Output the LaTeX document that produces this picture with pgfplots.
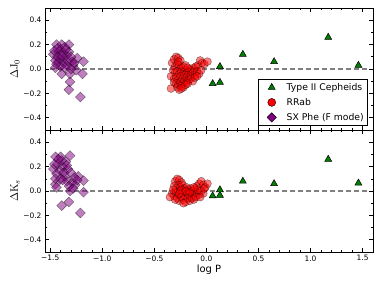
\documentclass[border=0pt]{standalone}
\usepackage[no-math]{fontspec}
\setmainfont{DejaVu Sans}
\usepackage{pgfplots}
\pgfplotsset{compat=1.18}
\definecolor{mplpurple}{HTML}{800080}
\definecolor{mplgreen}{HTML}{008000}
\definecolor{mplred}{HTML}{FF0000}
\pgfplotsset{
  myax/.style={
    scale only axis, width=328bp, height=122bp,
    xmin=-1.55, xmax=1.6, ymin=-0.5, ymax=0.5,
    xtick={-1.5,-1,-0.5,0,0.5,1,1.5}, minor x tick num=4,
    ytick={-0.4,-0.2,0,0.2,0.4}, minor y tick num=1,
    yticklabels={−0.4,−0.2,0.0,0.2,0.4},
    tick align=inside, xtick pos=both, ytick pos=both,
    major tick length=4bp, minor tick length=2bp,
    axis line style={line width=0.8bp},
    every tick/.style={black, line width=0.6bp},
    tick label style={font=\fontsize{7.5}{9}\selectfont},
    every axis y label/.style={at={(axis description cs:-0.0915,0.5)},rotate=90,anchor=center,font=\fontsize{11}{13}\selectfont},
    every axis x label/.style={at={(axis description cs:0.5,-0.1475)},anchor=center,font=\fontsize{10}{12}\selectfont},
  },
  rrab/.style={only marks, mark=*, mark size=4bp, mark options={fill=mplred, draw=black, line width=0.4bp, opacity=0.5}},
  sxphe/.style={only marks, mark=square*, mark size=3.5bp, mark options={rotate=45, fill=mplpurple, draw=black, line width=0.4bp, opacity=0.5}},
  cep/.style={only marks, mark=triangle*, mark size=4bp, mark options={fill=mplgreen, draw=black, line width=0.5bp}},
  zeroline/.style={gray, line width=1.2bp, dash pattern=on 5bp off 3bp, forget plot},
}
\begin{document}
\begin{tikzpicture}[x=1bp,y=1bp]
\path[use as bounding box] (0,0) rectangle (382,286);
% ---------- top panel ----------
\begin{axis}[myax, at={(45bp,156bp)}, anchor=south west,
  xticklabels={},
  ylabel={$\Delta\mathrm{J}_0$},
  legend cell align=left,
  legend image code/.code={\path[draw=none,fill=none] (0bp,-3bp) rectangle (24bp,3bp); \draw[#1] plot coordinates {(11bp,0bp)};},
  legend style={at={(0.985,0.033)}, anchor=south east, draw=black, line width=0.6bp,
    font=\fontsize{9.3}{11}\selectfont, row sep=2.5bp, inner sep=2bp,
    /tikz/every even column/.append style={column sep=2bp}},
]
\addplot[zeroline] coordinates {(-1.5,0) (1.55,0)};
\addplot[rrab, forget plot] table {
-0.33 0.05
-0.31 0.08
-0.29 0.10
-0.27 0.09
-0.25 0.07
-0.30 0.02
-0.28 0.04
-0.26 0.03
-0.24 0.01
-0.32 -0.01
-0.30 -0.03
-0.28 -0.02
-0.26 -0.04
-0.24 -0.02
-0.22 -0.03
-0.20 -0.01
-0.18 -0.02
-0.16 0.00
-0.14 -0.01
-0.12 0.01
-0.10 0.02
-0.08 0.03
-0.06 0.07
-0.04 0.05
-0.02 0.04
0.01 0.06
-0.34 -0.06
-0.31 -0.08
-0.29 -0.07
-0.27 -0.09
-0.25 -0.06
-0.23 -0.08
-0.21 -0.05
-0.19 -0.07
-0.17 -0.04
-0.15 -0.06
-0.13 -0.03
-0.11 -0.05
-0.09 -0.02
-0.07 -0.04
-0.05 -0.01
-0.31 -0.11
-0.29 -0.12
-0.27 -0.13
-0.25 -0.11
-0.23 -0.12
-0.21 -0.10
-0.19 -0.11
-0.17 -0.09
-0.15 -0.08
-0.13 -0.10
-0.11 -0.07
-0.09 -0.06
-0.28 -0.15
-0.26 -0.17
-0.24 -0.14
-0.22 -0.15
-0.20 -0.13
-0.34 -0.16
-0.24 -0.16
-0.18 -0.12
-0.22 0.02
-0.20 0.03
-0.18 0.01
-0.27 0.06
};
\addplot[sxphe, forget plot] table {
-1.44 0.20
-1.39 0.20
-1.32 0.20
-1.47 0.12
-1.42 0.14
-1.37 0.09
-1.32 0.14
-1.45 0.01
-1.40 0.02
-1.29 0.06
-1.24 0.09
-1.18 0.06
-1.39 -0.04
-1.31 -0.04
-1.25 -0.01
-1.19 -0.04
-1.31 -0.105
-1.32 -0.17
-1.21 -0.23
-1.28 0.03
-1.34 0.03
-1.42 0.06
-1.46 0.15
-1.43 0.10
-1.40 0.16
-1.38 0.13
-1.36 0.18
-1.34 0.11
-1.41 0.08
-1.45 0.07
-1.37 0.05
-1.33 0.07
-1.35 0.16
-1.30 0.10
-1.43 0.17
-1.39 0.11
-1.44 0.04
-1.36 0.01
-1.30 0.00
-1.27 0.05
};
\addplot[cep, forget plot] table {
0.13 0.02
0.06 -0.12
0.13 -0.11
0.35 0.12
0.65 0.06
1.17 0.26
1.46 0.03
};
\addlegendimage{cep}
\addlegendentry{Type II Cepheids}
\addlegendimage{only marks, mark=*, mark size=4bp, mark options={fill=mplred, draw=black, line width=0.4bp}}
\addlegendentry{RRab}
\addlegendimage{only marks, mark=square*, mark size=3.3bp, mark options={rotate=45, fill=mplpurple, draw=black, line width=0.4bp}}
\addlegendentry{SX Phe (F mode)}
\end{axis}
% ---------- bottom panel ----------
\begin{axis}[myax, at={(45bp,34bp)}, anchor=south west,
  xticklabels={−1.5,−1.0,−0.5,0.0,0.5,1.0,1.5},
  ylabel={$\Delta\mathrm{K}_s$},
  xlabel={log P},
]
\addplot[zeroline] coordinates {(-1.5,0) (1.55,0)};
\addplot[rrab] table {
-0.30 0.08
-0.28 0.10
-0.26 0.09
-0.24 0.07
-0.27 0.05
-0.31 0.04
-0.29 0.02
-0.25 0.03
-0.23 0.05
-0.21 0.02
-0.19 0.03
-0.17 0.01
-0.15 0.02
-0.13 0.00
-0.11 0.02
-0.09 0.04
-0.07 0.06
-0.05 0.08
-0.03 0.05
-0.01 0.03
0.01 0.06
-0.33 -0.02
-0.31 -0.04
-0.29 -0.01
-0.27 -0.03
-0.25 0.00
-0.23 -0.02
-0.21 -0.04
-0.19 -0.01
-0.17 -0.03
-0.15 -0.05
-0.13 -0.02
-0.11 -0.04
-0.09 -0.01
-0.07 -0.03
-0.05 0.00
-0.03 -0.02
-0.28 -0.06
-0.26 -0.08
-0.24 -0.05
-0.22 -0.07
-0.20 -0.09
-0.18 -0.06
-0.16 -0.08
-0.14 -0.06
-0.12 -0.07
-0.10 -0.05
-0.22 -0.10
-0.30 -0.07
-0.35 -0.05
-0.08 0.01
-0.06 -0.05
-0.24 0.01
-0.20 0.00
-0.16 -0.01
-0.12 0.03
-0.26 -0.02
-0.32 0.01
-0.02 0.02
};
\addplot[sxphe] table {
-1.45 0.28
-1.40 0.28
-1.31 0.29
-1.47 0.18
-1.45 0.055
-1.44 0.03
-1.39 -0.12
-1.32 -0.09
-1.21 -0.18
-1.18 -0.01
-1.18 0.085
-1.23 0.12
-1.31 0.00
-1.26 0.05
-1.34 0.08
-1.29 0.07
-1.27 0.11
-1.32 0.04
-1.36 0.12
-1.43 0.22
-1.41 0.17
-1.38 0.20
-1.35 0.24
-1.33 0.18
-1.44 0.14
-1.39 0.25
-1.42 0.26
-1.37 0.15
-1.45 0.10
-1.40 0.10
-1.34 0.21
-1.30 0.15
-1.46 0.22
-1.38 0.09
-1.24 0.09
-1.28 0.02
};
\addplot[cep] table {
0.06 -0.04
0.13 -0.035
0.13 0.01
0.35 0.08
0.65 0.06
1.17 0.26
1.46 0.065
};
\end{axis}
\end{tikzpicture}
\end{document}
